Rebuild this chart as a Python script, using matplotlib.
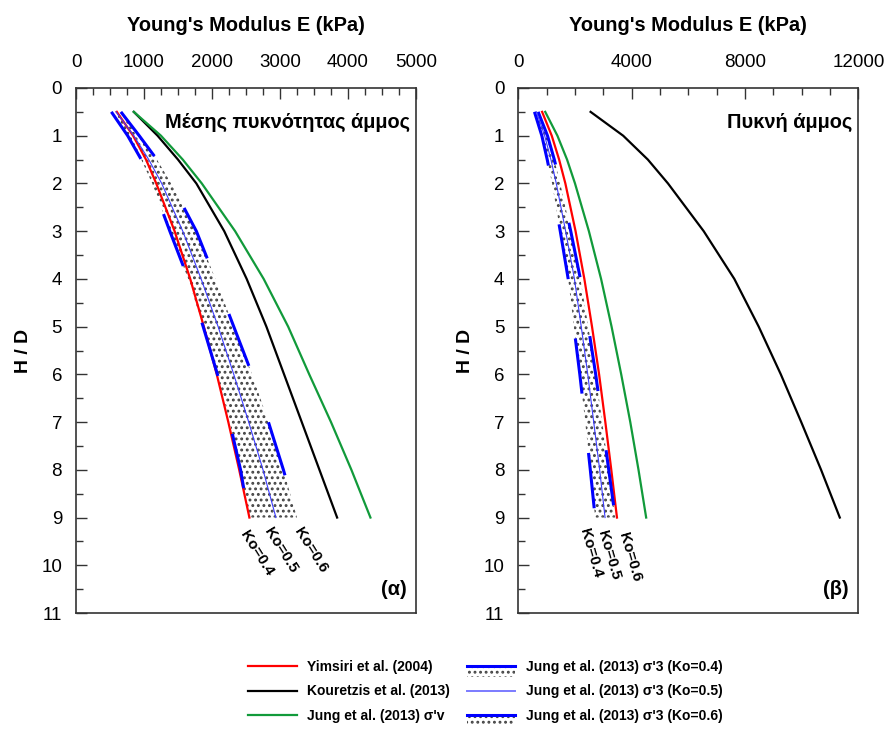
#!/usr/bin/env python3
"""Young's modulus E vs H/D for medium-dense and dense sand."""

import matplotlib
matplotlib.use("Agg")
import matplotlib.pyplot as plt
from matplotlib.legend_handler import HandlerBase
from matplotlib.lines import Line2D
from matplotlib.patches import Patch, Rectangle
from matplotlib.ticker import MultipleLocator

plt.rcParams["font.family"] = ["Liberation Sans", "DejaVu Sans"]
plt.rcParams["lines.scale_dashes"] = False
plt.rcParams["hatch.linewidth"] = 1.3

# H/D depths where values were read
HD = [0.5, 1, 1.5, 2, 3, 4, 5, 6, 7, 8, 9]

# (α) medium dense sand, E in kPa
yimsiri_a = [600, 840, 1030, 1180, 1450, 1680, 1880, 2070, 2240, 2400, 2550]
kouretzis_a = [850, 1200, 1500, 1770, 2180, 2510, 2800, 3060, 3320, 3580, 3840]
jung_v_a = [850, 1250, 1570, 1850, 2340, 2760, 3120, 3430, 3750, 4050, 4330]
ko04_a = [520, 760, 960, 1120, 1380, 1650, 1870, 2080, 2260, 2420, 2540]
ko05_a = [590, 850, 1070, 1260, 1570, 1840, 2090, 2320, 2540, 2750, 2940]
ko06_a = [660, 930, 1190, 1400, 1770, 2050, 2320, 2590, 2830, 3050, 3250]

# (β) dense sand
yimsiri_b = [840, 1180, 1440, 1660, 2020, 2330, 2600, 2850, 3070, 3280, 3480]
kouretzis_b = [2550, 3700, 4570, 5280, 6540, 7620, 8480, 9260, 9980, 10680, 11340]
jung_v_b = [950, 1380, 1720, 2000, 2490, 2920, 3290, 3630, 3950, 4240, 4510]
ko04_b = [570, 830, 1020, 1190, 1480, 1760, 1960, 2170, 2360, 2540, 2710]
ko05_b = [640, 930, 1150, 1340, 1670, 1980, 2220, 2450, 2660, 2870, 3060]
ko06_b = [700, 1030, 1270, 1480, 1850, 2190, 2470, 2730, 2960, 3190, 3420]

labels = ["Yimsiri et al. (2004)", "Kouretzis et al. (2013)", "Jung et al. (2013) σ'v",
          "Jung et al. (2013) σ'3 (Ko=0.4)", "Jung et al. (2013) σ'3 (Ko=0.5)",
          "Jung et al. (2013) σ'3 (Ko=0.6)"]

RED, BLACK, GREEN, BLUE = "#ff0000", "#000000", "#119a3a", "#0000ff"
DASH = (0, (40, 43))
DOT = "#444444"


def panel(ax, data, xmax, xmajor, xminor, title, tag, ko_pos, ko_rot):
    yims, kour, jv, k4, k5, k6 = data
    ax.fill_betweenx(HD, k4, k6, facecolor="white", edgecolor=DOT, hatch="...", linewidth=0)
    ax.plot(yims, HD, color=RED, lw=1.6)
    ax.plot(kour, HD, color=BLACK, lw=1.6)
    ax.plot(jv, HD, color=GREEN, lw=1.6)
    ax.plot(k4, HD, color=BLUE, lw=2.2, linestyle=DASH)
    ax.plot(k6, HD, color=BLUE, lw=2.2, linestyle=DASH)
    ax.plot(k5, HD, color="#3c3cff", lw=0.8)

    ax.set_xlim(0, xmax)
    ax.set_ylim(11, 0)
    ax.xaxis.set_major_locator(MultipleLocator(xmajor))
    ax.xaxis.set_minor_locator(MultipleLocator(xminor))
    ax.yaxis.set_major_locator(MultipleLocator(1))
    ax.yaxis.set_minor_locator(MultipleLocator(0.5))
    ax.xaxis.tick_top()
    ax.xaxis.set_label_position("top")
    ax.tick_params(axis="x", which="both", direction="in", top=True, bottom=False,
                   labelsize=13.5, pad=12, color="#333333")
    ax.tick_params(axis="y", which="both", direction="in", left=True, right=False,
                   labelsize=13.5, pad=10, color="#333333")
    ax.tick_params(which="major", length=8, width=1)
    ax.tick_params(which="minor", length=5, width=1)
    for s in ax.spines.values():
        s.set_color("#333333")
        s.set_linewidth(1.2)

    ax.set_xlabel("Young's Modulus E (kPa)", fontsize=14.4, fontweight="bold", labelpad=17)
    ax.set_ylabel("H / D", fontsize=14, fontweight="bold", labelpad=7)
    ax.text(0.982, 0.935, title, transform=ax.transAxes, ha="right", va="center",
            fontsize=14.4, fontweight="bold")
    ax.text(0.972, 0.044, tag, transform=ax.transAxes, ha="right", va="center",
            fontsize=14.4, fontweight="bold")
    for (x, y), lab in zip(ko_pos, ["Ko=0.4", "Ko=0.5", "Ko=0.6"]):
        ax.text(x, y, lab, rotation=ko_rot, rotation_mode="anchor", ha="center",
                va="center", fontsize=11, fontweight="bold")


class BandHandler(HandlerBase):
    def create_artists(self, legend, orig_handle, xdescent, ydescent, width, height,
                       fontsize, trans):
        x0, y0 = -xdescent, -ydescent
        ymid = y0 + height / 2
        rect = Rectangle((x0, ymid - 7.5), width, 7.5, facecolor="white", edgecolor=DOT,
                         hatch="...", linewidth=0, transform=trans)
        line = Line2D([x0, x0 + width], [ymid, ymid], color=BLUE, lw=2.2, transform=trans)
        return [rect, line]


fig = plt.figure(figsize=(8.88, 7.31), dpi=100)
ax1 = fig.add_axes([76 / 888, 1 - 613 / 731, 340 / 888, 525 / 731])
ax2 = fig.add_axes([518.3 / 888, 1 - 613 / 731, 340.2 / 888, 525 / 731])

panel(ax1, (yimsiri_a, kouretzis_a, jung_v_a, ko04_a, ko05_a, ko06_a), 5000, 1000, 250,
      "Μέσης πυκνότητας άμμος", "(α)",
      [(2660, 9.75), (3015, 9.69), (3456, 9.69)], -58)
panel(ax2, (yimsiri_b, kouretzis_b, jung_v_b, ko04_b, ko05_b, ko06_b), 12000, 4000, 1000,
      "Πυκνή άμμος", "(β)",
      [(2564, 9.75), (3199, 9.79), (3940, 9.83)], -74)

band4 = Patch(label=labels[3])
band6 = Patch(label=labels[5])
handles = [
    Line2D([], [], color=RED, lw=1.6),
    Line2D([], [], color=BLACK, lw=1.6),
    Line2D([], [], color=GREEN, lw=1.6),
    band4,
    Line2D([], [], color="#7b7bff", lw=1.4),
    band6,
]
fig.legend(handles, labels, loc="upper left", bbox_to_anchor=(248 / 888, 1 - 660 / 731),
           ncol=2, frameon=False, fontsize=10, handlelength=3.5, handletextpad=0.75,
           columnspacing=1.2, labelspacing=0.75, borderpad=0, borderaxespad=0,
           prop={"weight": "bold", "size": 10},
           handler_map={Patch: BandHandler()})

fig.savefig("out.png", dpi=100)
